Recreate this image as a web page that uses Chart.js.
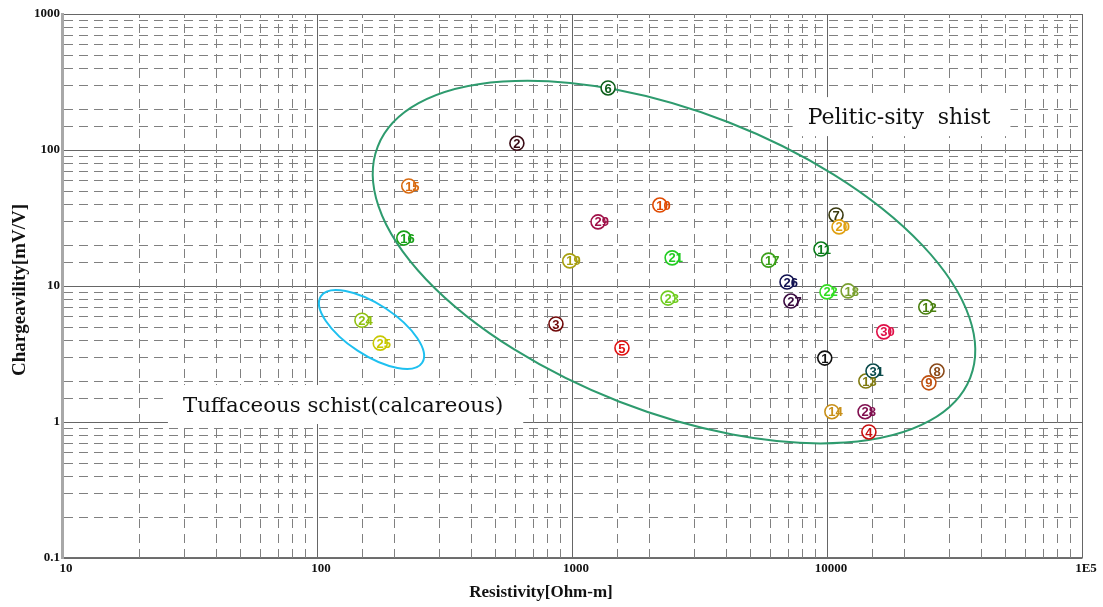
<!DOCTYPE html>
<html>
<head>
<meta charset="utf-8">
<style>
html,body{margin:0;padding:0;background:#fff;}
canvas{display:block;}
</style>
<script src="https://cdn.jsdelivr.net/npm/chart.js@4.4.1/dist/chart.umd.min.js"></script>
</head>
<body>
<canvas id="c" width="1103" height="607"></canvas>
<script>
// ---------------- data ----------------
const pointIds = [1,2,3,4,5,6,7,8,9,10,11,12,13,14,15,16,17,18,19,20,21,22,23,24,25,26,27,28,29,30,31];
const resistivity = [9800,608,865,14600,1570,1385,10850,27000,25100,2210,9470,24400,14200,10450,229,219,5900,12100,980,11150,2470,10000,2380,150,177,6970,7220,14100,1265,16700,15150];
const chargeability = [2.95,112,5.26,0.845,3.5,286,33.3,2.37,1.94,39.4,18.7,7.0,2.0,1.19,54.4,22.5,15.5,9.2,15.3,27.2,16.1,9.05,8.15,5.6,3.8,10.7,7.75,1.19,29.6,4.6,2.37];
const pointColors = ['#111111','#3a0a14','#700808','#c81010','#e01010','#0d5e1a','#3a3a10','#8b4a1a','#c05010','#e04a00',
  '#0a7a1a','#4a8010','#807a10','#c8901a','#d86a10','#18a018','#3aa018','#7aa030','#a8a010','#e0a010',
  '#22cc22','#33dd22','#70cc20','#90c010','#c8c800','#101050','#3a0a40','#801050','#a01048','#e01048','#0a4a4a'];
const xTickValues = [10,100,1000,10000,100000];
const xTickLabels = ['10','100','1000','10000','1E5'];
const yTickValues = [0.1,1,10,100,1000];
const yTickLabels = ['0.1','1','10','100','1000'];
const xTitle = 'Resistivity[Ohm-m]';
const yTitle = 'Chargeavility[mV/V]';
const noteTexts = ['Pelitic-sity  shist','Tuffaceous schist(calcareous)'];
const noteX = [8400, 29.8];
const noteY = [155, 1.184];
// ellipse centres in data units
const ellipseCx = [2512, 163.6];
const ellipseCy = [15.0, 4.79];

// --------------- helpers ---------------
const SERIF = '"Liberation Serif","Times New Roman",serif';
const NOTE_FONT = '"DejaVu Serif",serif';
const noteSize = [22, 21.3];
function isDecade(v){ const l=Math.log10(v); return Math.abs(l-Math.round(l))<1e-6; }
function labelFor(v, vals, labels){
  for(let i=0;i<vals.length;i++){ if(Math.abs(Math.log10(v)-Math.log10(vals[i]))<1e-6) return labels[i]; }
  return '';
}
const ellipseStyle = [
  {a:318,b:150,angle:21.3,color:'#2e9b6e',width:2},
  {a:60.6,b:25.4,angle:33.3,color:'#1ec0f0',width:2}
];

const decor = {
  id:'decor',
  beforeDatasetsDraw(chart){
    const {ctx, chartArea:a, scales:{x,y}} = chart;
    ctx.save();
    // minor dashed grid
    ctx.strokeStyle = '#808080'; ctx.lineWidth = 1; ctx.setLineDash([9,6]);
    x.ticks.forEach(t=>{
      if(isDecade(t.value)) return;
      const px = Math.round(x.getPixelForValue(t.value))+0.5;
      ctx.beginPath(); ctx.moveTo(px,a.bottom); ctx.lineTo(px,a.top); ctx.stroke();
    });
    y.ticks.forEach(t=>{
      if(isDecade(t.value)) return;
      const py = Math.round(y.getPixelForValue(t.value))+0.5;
      ctx.beginPath(); ctx.moveTo(a.left+2,py); ctx.lineTo(a.right,py); ctx.stroke();
    });
    ctx.setLineDash([]);
    // notes with white boxes
    ctx.textBaseline = 'alphabetic'; ctx.textAlign = 'left';
    noteTexts.forEach((txt,i)=>{
      ctx.font = noteSize[i]+'px '+NOTE_FONT;
      const px = x.getPixelForValue(noteX[i]), py = y.getPixelForValue(noteY[i]);
      const w = ctx.measureText(txt).width;
      ctx.fillStyle = '#fff';
      ctx.fillRect(px-15, py-27, w+35, 39);
      ctx.fillStyle = '#111';
      ctx.fillText(txt, px, py);
    });
    // ellipses
    ellipseStyle.forEach((e,i)=>{
      const cx = x.getPixelForValue(ellipseCx[i]), cy = y.getPixelForValue(ellipseCy[i]);
      ctx.beginPath();
      ctx.ellipse(cx, cy, e.a, e.b, e.angle*Math.PI/180, 0, Math.PI*2);
      ctx.strokeStyle = e.color; ctx.lineWidth = e.width; ctx.stroke();
    });
    ctx.restore();
  },
  afterDatasetsDraw(chart){
    const {ctx} = chart;
    const meta = chart.getDatasetMeta(0);
    ctx.save();
    ctx.font = 'bold 13px "Liberation Sans",Arial,sans-serif';
    ctx.textBaseline = 'middle'; ctx.textAlign = 'left';
    meta.data.forEach((pt,i)=>{
      const s = String(pointIds[i]);
      const w1 = ctx.measureText(s[0]).width;
      ctx.fillStyle = pointColors[i];
      ctx.fillText(s, pt.x - w1/2, pt.y + 1);
    });
    ctx.restore();
  },
  afterDraw(chart){
    const {ctx} = chart;
    ctx.save();
    ctx.fillStyle = '#111';
    ctx.textAlign = 'center'; ctx.textBaseline = 'middle';
    ctx.font = 'bold 17px '+SERIF;
    ctx.fillText(xTitle, 541, 593);
    ctx.translate(20, 290);
    ctx.rotate(-Math.PI/2);
    ctx.font = 'bold 19px '+SERIF;
    ctx.fillText(yTitle, 0, 0);
    ctx.restore();
  }
};

const gridColor = c => (c.tick && isDecade(c.tick.value)) ? '#666666' : 'rgba(0,0,0,0)';

new Chart(document.getElementById('c'), {
  type:'scatter',
  data:{ datasets:[{
    data: resistivity.map((r,i)=>({x:r, y:chargeability[i]})),
    pointRadius:7, pointHoverRadius:7, pointBorderWidth:1.6,
    pointBackgroundColor:'#ffffff', pointBorderColor:pointColors, showLine:false
  }]},
  options:{
    responsive:false, devicePixelRatio:1, animation:false, events:[],
    layout:{ padding:{ top:14, right:21, left:0, bottom:0 } },
    plugins:{ legend:{display:false}, tooltip:{enabled:false} },
    scales:{
      x:{ type:'logarithmic', min:10, max:100000, position:'bottom',
        afterFit(s){ s.height = 49; },
        grid:{ drawTicks:false, color:gridColor, lineWidth:1 },
        border:{ color:'#707070', width:1.5 },
        ticks:{ autoSkip:false, maxRotation:0, minRotation:0, padding:3, labelOffset:4, color:'#111',
          font:{ family:SERIF, weight:'bold', size:13 },
          callback:(v)=>labelFor(v, xTickValues, xTickLabels) }
      },
      y:{ type:'logarithmic', min:0.1, max:1000, position:'left',
        afterFit(s){ s.width = 62; },
        grid:{ drawTicks:false, color:gridColor, lineWidth:1 },
        border:{ color:'#a8a8a8', width:3 },
        ticks:{ autoSkip:false, padding:2, color:'#111',
          font:{ family:SERIF, weight:'bold', size:13 },
          callback:(v)=>labelFor(v, yTickValues, yTickLabels) }
      }
    }
  },
  plugins:[decor]
});
</script>
</body>
</html>
